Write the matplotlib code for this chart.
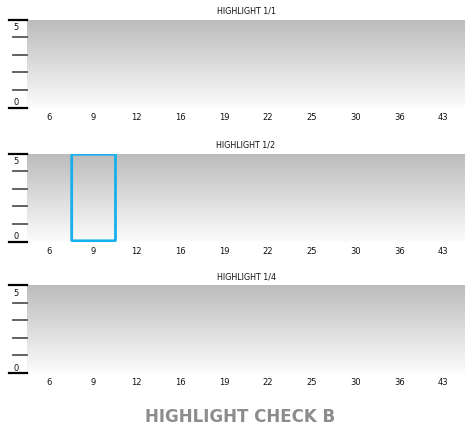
import numpy as np
import matplotlib
matplotlib.use('Agg')
import matplotlib.pyplot as plt
from matplotlib.patches import FancyBboxPatch
from matplotlib.lines import Line2D

# Données des trois panneaux
categories = ['6', '9', '12', '16', '19', '22', '25', '30', '36', '43']
titres = ['HIGHLIGHT 1/1', 'HIGHLIGHT 1/2', 'HIGHLIGHT 1/4']
surlignes = [None, '9', None]
y_min, y_max = 0, 5
titre_general = 'HIGHLIGHT CHECK B'

W, H = 465, 431
fig = plt.figure(figsize=(W / 100, H / 100), dpi=100)

# Position des panneaux en pixels (haut, bas)
panneaux = [(20.5, 108.5), (154.5, 242.5), (286, 374)]
x_gauche, x_droite = 27, 465
largeur = x_droite - x_gauche

# Dégradé gris -> blanc pour le fond
degrade = np.linspace(0, 1, 256).reshape(-1, 1)
cmap = matplotlib.colors.LinearSegmentedColormap.from_list('fond', ['#bcbcbc', '#fcfcfc'])

for (haut, bas), titre, surl in zip(panneaux, titres, surlignes):
    ax = fig.add_axes([x_gauche / W, 1 - bas / H, largeur / W, (bas - haut) / H])
    n = len(categories)
    ax.set_xlim(-0.5, n - 0.5)
    ax.set_ylim(y_min, y_max)
    ax.imshow(degrade, cmap=cmap, aspect='auto', extent=(-0.5, n - 0.5, y_min, y_max),
              origin='upper', zorder=0)
    for s in ax.spines.values():
        s.set_visible(False)

    ax.set_xticks(range(n))
    ax.set_xticklabels(categories, fontsize=6, color='#111111')
    ax.tick_params(axis='x', length=0, pad=3)
    ax.set_yticks([])

    # Graduations de l'axe Y dessinées à gauche du panneau
    tr = ax.get_yaxis_transform()
    for v in range(y_min, y_max + 1):
        if v in (y_min, y_max):
            ax.add_line(Line2D([-18 / largeur, 0], [v, v], transform=tr,
                               color='black', lw=1.6, clip_on=False))
        else:
            ax.add_line(Line2D([-14 / largeur, 0], [v, v], transform=tr,
                               color='#555555', lw=1.3, clip_on=False))
    ax.text(-11 / largeur, y_max - 0.15, str(y_max), transform=tr, fontsize=6,
            ha='center', va='top', color='#111111')
    ax.text(-11 / largeur, y_min + 0.08, str(y_min), transform=tr, fontsize=6,
            ha='center', va='bottom', color='#111111')

    ax.set_title(titre, fontsize=5.8, pad=5, color='#111111')

    # Cadre de mise en évidence autour de la catégorie choisie
    if surl is not None:
        i = categories.index(surl)
        cadre = FancyBboxPatch((i - 0.48, y_min + 0.04), 1.0, y_max - y_min - 0.08,
                               boxstyle='round,pad=0,rounding_size=0.04',
                               fill=False, edgecolor='#16b0ee', lw=2.0, zorder=3)
        ax.add_patch(cadre)

fig.text(240 / W, 1 - 417 / H, titre_general, ha='center', va='center',
         fontsize=12, fontweight='bold', color='#8c8c8c')

plt.savefig('out.png', dpi=100)
